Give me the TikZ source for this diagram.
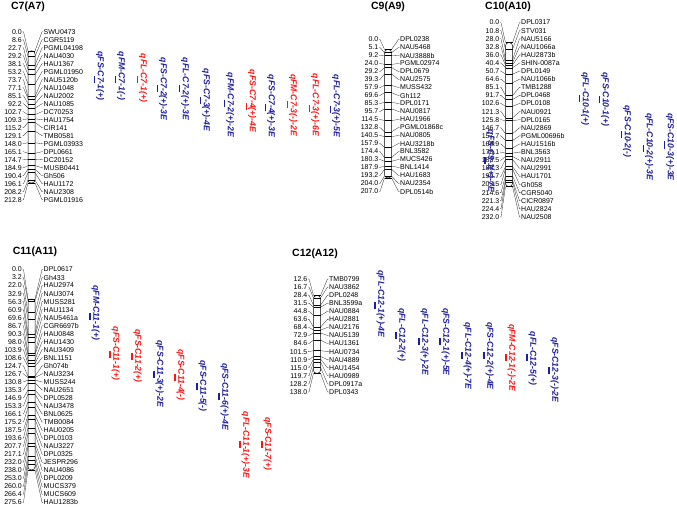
\documentclass[tikz,border=0pt]{standalone}
\usepackage{fontspec}
\setmainfont{Liberation Sans}
\usetikzlibrary{positioning}
\definecolor{QtlBlue}{HTML}{1E1E9E}
\definecolor{QtlRed}{HTML}{FF1414}

% #1 id, #2 bar x, #3 first label y, #4 label step, #5 y of 0 cM, #6 px per cM,
% #7 bar start cM, #8 bar end cM, #9 list cM/marker
\newcommand{\linkmap}[9]{%
  \draw[chrbar] ({#2-3.5},{#5+#7*#6}) rectangle ({#2+3.5},{#5+#8*#6});
  \foreach \cm/\mk [count=\i] in {#9} {
    \coordinate (#1a\i) at ({#2-3.5},{#5+\cm*#6});
    \coordinate (#1b\i) at ({#2+3.5},{#5+\cm*#6});
    \node[poslab, anchor=east] (#1p\i) at ({#2-9},{#3+(\i-1)*#4}) {\cm};
    \node[mrklab, anchor=west] (#1m\i) at ({#2+11.5},{#3+(\i-1)*#4}) {\mk};
    \draw[tickline] (#1a\i) -- (#1b\i);
    \draw[linkline] (#1p\i.east) -- ++(1,0) -- (#1a\i);
    \draw[linkline] (#1b\i) -- ([xshift=-1pt]#1m\i.west) -- (#1m\i.west);
  }
}

\begin{document}
\begin{tikzpicture}[x=1pt, y=-1pt,
  chrbar/.style={draw=black, line width=0.5pt, rounded corners=3pt},
  tickline/.style={black, line width=0.4pt},
  linkline/.style={black!85, line width=0.3pt},
  poslab/.style={font=\fontsize{7}{8}\selectfont, inner sep=0.5pt},
  mrklab/.style={font=\fontsize{7}{8}\selectfont, inner sep=0.5pt},
  chrtitle/.style={font=\fontsize{10.5}{12}\selectfont\bfseries},
  qtlbar/.style={line width=1.3pt},
  qtllab/.style={font=\fontsize{8.7}{10}\selectfont\bfseries\itshape, rotate=-90, inner sep=0pt}]
\useasboundingbox (0,0) rectangle (677,508);

% chromosome titles
\node[chrtitle] (t7) at (28,7) {C7(A7)};
\node[chrtitle] (t9) at (388,7) {C9(A9)};
\node[chrtitle] (t10) at (508,7) {C10(A10)};
\node[chrtitle] (t11) at (35,252) {C11(A11)};
\node[chrtitle] (t12) at (315,254) {C12(A12)};

% linkage groups
\linkmap{c7}{31.5}{31.7}{8.0}{51}{0.62}{0}{212.8}{0.0/SWU0473, 8.6/CGR5119, 22.7/PGML04198,
  29.2/NAU4030, 38.1/HAU1367, 53.2/PGML01950, 73.7/NAU5120b, 77.1/NAU1048, 85.1/NAU2002,
  92.2/NAU1085, 102.7/DC70253, 109.3/HAU1754, 115.2/CIR141, 129.1/TMB0581, 148.0/PGML03933,
  165.1/DPL0661, 174.7/DC20152, 184.9/MUSB0441, 190.4/Gh506, 196.1/HAU1172, 208.2/NAU2308,
  212.8/PGML01916}
\linkmap{c9}{388}{39.5}{8.0}{49.5}{0.62}{0}{207}{0.0/DPL0238, 5.1/NAU5468, 9.2/NAU3888b,
  24.0/PGML02974, 29.2/DPL0679, 39.3/NAU2575, 57.9/MUSS432, 69.6/Gh112, 85.3/DPL0171,
  95.7/NAU0817, 114.5/HAU1966, 132.8/PGML01868c, 140.5/NAU0805, 157.9/HAU3218b,
  174.4/BNL3582, 180.3/MUCS426, 187.9/BNL1414, 193.2/HAU1683, 204.0/NAU2354, 207.0/DPL0514b}
\linkmap{c10}{509}{22.5}{8.1}{42.7}{0.62}{0}{232}{0.0/DPL0317, 10.8/STV031, 28.0/NAU5166,
  32.8/NAU1066a, 36.0/HAU2873b, 40.4/SHIN-0087a, 50.7/DPL0149, 64.6/NAU1066b, 85.1/TMB1288,
  91.7/DPL0468, 102.6/DPL0108, 121.3/NAU0921, 125.8/DPL0165, 146.7/NAU2869,
  157.7/PGML00696b, 169.9/HAU1516b, 178.1/BNL3563, 183.5/NAU2911, 188.3/NAU2991,
  199.7/HAU1701, 203.5/Gh058, 214.6/CGR5040, 221.3/CICR0897, 224.4/HAU2824, 232.0/NAU2508}
\linkmap{c11}{31.5}{269.5}{8.03}{299}{0.62}{0}{275.6}{0.0/DPL0617, 3.2/Gh433, 22.0/HAU2974,
  32.9/NAU3074, 56.3/MUSS281, 60.9/HAU1134, 69.6/NAU5461a, 86.7/CGR6697b, 90.3/HAU0848,
  98.0/HAU1430, 103.9/NAU3409, 108.6/BNL1151, 124.7/Gh074b, 126.7/NAU3234, 130.8/MUSS244,
  135.3/NAU2651, 146.9/DPL0528, 153.3/NAU3478, 166.1/BNL0625, 175.2/TMB0084, 187.5/HAU0205,
  193.6/DPL0103, 207.7/NAU3227, 217.1/DPL0325, 232.0/JESPR296, 238.0/NAU4086, 253.0/DPL0209,
  260.0/MUCS379, 266.4/MUCS609, 275.6/HAU1283b}
\linkmap{c12}{317}{279}{8.07}{287.7}{0.62}{12.6}{138}{12.6/TMB0799, 16.7/NAU3862,
  28.4/DPL0248, 31.5/BNL3599a, 44.8/NAU0884, 63.6/HAU2881, 68.4/NAU2176, 72.9/NAU5139,
  84.6/HAU1361, 101.5/HAU0734, 110.9/NAU4889, 115.0/HAU1454, 119.7/HAU0989,
  128.2/DPL0917a, 138.0/DPL0343}

% QTL intervals: bar x / top / bottom / label y / colour / name
\foreach \qx/\qa/\qb/\qy/\qc/\qt [count=\j] in {
  94.5/76.5/83.5/76/QtlBlue/qFS-C7-1(+), 115.5/76.5/83.5/76/QtlBlue/qFM-C7-1(-),
  137.5/76.5/83.5/78/QtlRed/qFL-C7-1(+), 157.5/85/92/89/QtlBlue/qFS-C7-2(+)-3E,
  179.5/85/92/89/QtlBlue/qFL-C7-2(+)-3E, 200.5/97/104/100/QtlBlue/qFS-C7-3(+)-4E,
  224.5/100/107/105/QtlBlue/qFM-C7-2(+)-2E, 246.5/103/110/101/QtlRed/qFS-C7-4(+)-4E,
  265.5/104/111/106/QtlBlue/qFS-C7-4(+)-3E, 287.5/101.5/108.5/105/QtlRed/qFM-C7-3(-)-2E,
  309.5/105/112/105/QtlRed/qFL-C7-3(+)-6E, 330.5/106/113/106/QtlBlue/qFL-C7-3(+)-5E,
  485/157/164/161/QtlBlue/qFS-C9-1(+)-7E,
  579.5/95/102/99/QtlBlue/qFL-C10-1(+), 599.5/96.5/103.5/99.5/QtlBlue/qFS-C10-1(+),
  621.5/131.5/138.5/131.5/QtlBlue/qFS-C10-2(-), 643.5/145/152/146.5/QtlBlue/qFL-C10-2(+)-3E,
  664.5/141.5/148.5/147/QtlBlue/qFS-C10-3(+)-3E,
  90/313/320/313/QtlBlue/qFM-C11-1(+), 110/351/358/353.5/QtlRed/qFS-C11-1(+),
  132/352.5/359.5/356/QtlRed/qFS-C11-2(+), 154/371/378/374/QtlBlue/qFS-C11-3(+)-2E,
  175/374/381/375/QtlRed/qFS-C11-4(-), 197/383/390/386/QtlBlue/qFS-C11-5(-),
  219/393/400/396.5/QtlBlue/qFS-C11-6(+)-4E, 240/441/448/445/QtlRed/qFL-C11-1(+)-3E,
  262/441/448/444/QtlRed/qFS-C11-7(+),
  375/301.5/308.5/304/QtlBlue/qFL-C12-1(+)-4E, 396/331.5/338.5/335/QtlBlue/qFL-C12-2(+),
  419/338/345/342/QtlBlue/qFL-C12-3(+)-2E, 440/338/345/342/QtlBlue/qFS-C12-1(+)-5E,
  462/351.5/358.5/356/QtlBlue/qFL-C12-4(+)-7E, 484/351.5/358.5/356/QtlBlue/qFS-C12-2(+)-4E,
  506/354/361/357.5/QtlRed/qFM-C12-1(-)-2E, 527/353.5/360.5/358.5/QtlBlue/qFL-C12-5(+),
  549/367/374/370/QtlBlue/qFS-C12-3(-)-2E} {
  \draw[qtlbar, \qc] (\qx,\qa) -- (\qx,\qb);
  \node[qtllab, text=\qc] (q\j) at ({\qx+5.5},\qy) {\qt};
}
\end{tikzpicture}
\end{document}
